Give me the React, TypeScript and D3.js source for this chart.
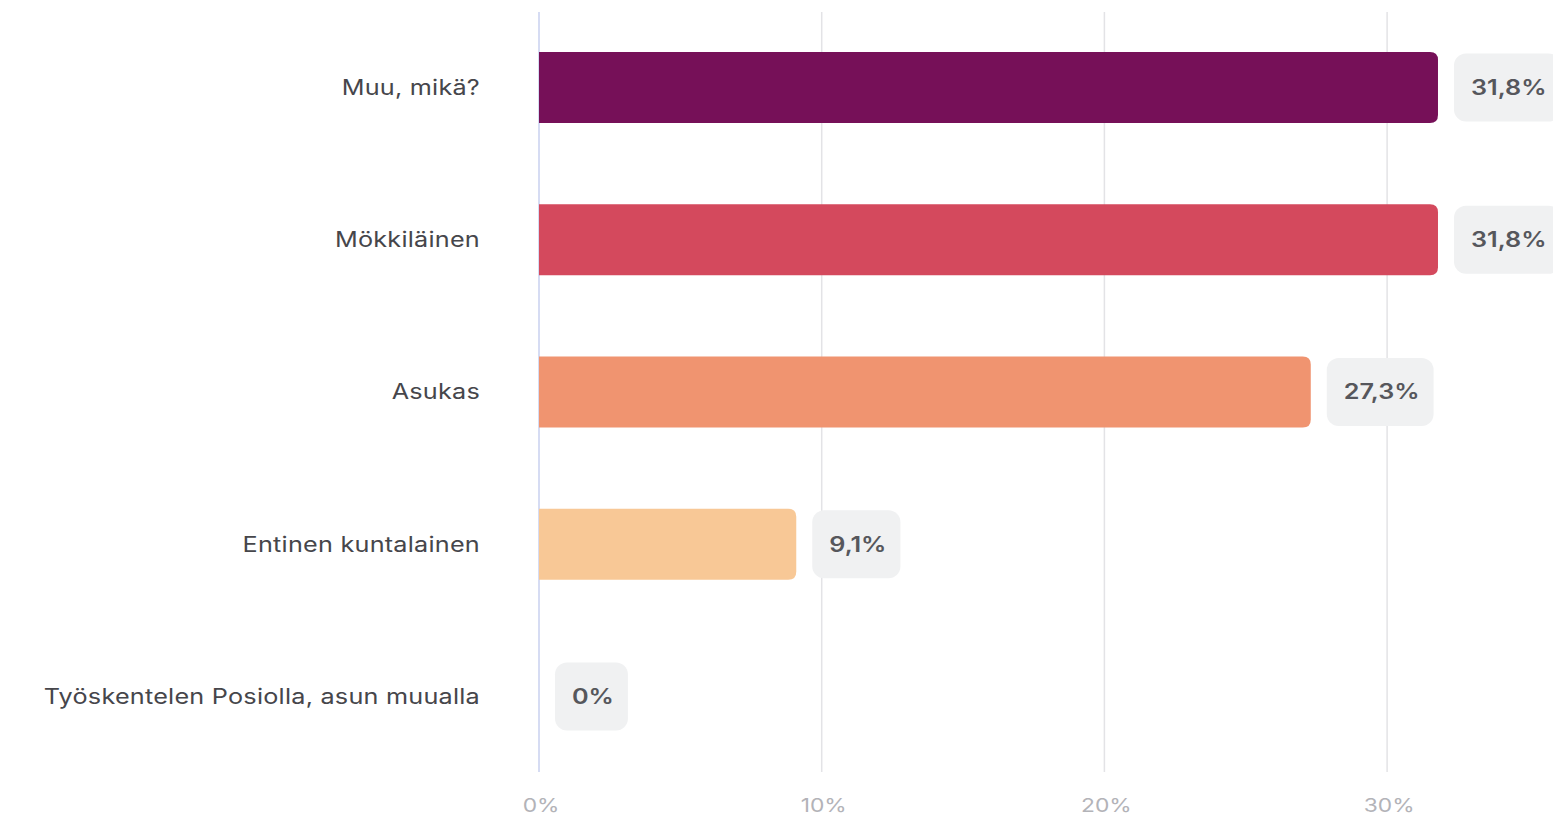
import React, { useEffect, useRef } from 'react';
import * as d3 from 'd3';

const categories = [
  'Muu, mikä?',
  'Mökkiläinen',
  'Asukas',
  'Entinen kuntalainen',
  'Työskentelen Posiolla, asun muualla',
];
const shares = [0.318, 0.318, 0.273, 0.091, 0];
const barColors = ['#761058', '#d4495d', '#f09470', '#f8c896', '#f8c896'];
const tickValues = [0, 0.1, 0.2, 0.3];

const W = 1553;
const H = 821;
// the source screenshot is stretched sideways, so text is too
const SX = 1.2;

const fi = d3.formatLocale({
  decimal: ',',
  thousands: '\u00a0',
  grouping: [3],
  currency: ['', '\u00a0€'],
});

const fmtValue = (v: number) => (v === 0 ? '0%' : fi.format('.1%')(v));
const fmtTick = fi.format('.0%');

const App: React.FC = () => {
  const ref = useRef<SVGSVGElement>(null);

  useEffect(() => {
    drawChart();
  // eslint-disable-next-line react-hooks/exhaustive-deps
  }, []);

  const drawChart = () => {
    const svg = d3.select(ref.current);
    svg.selectAll('*').remove();

    const x = d3.scaleLinear().domain([0, 0.35]).range([539, 539 + 2827 * 0.35]);
    const y = d3
      .scaleBand<string>()
      .domain(categories)
      .range([12, 772])
      .paddingInner(0.534)
      .paddingOuter(0.263);

    const font = 'Inter, "Noto Sans", sans-serif';

    // gridlines
    svg
      .append('g')
      .selectAll('line')
      .data(tickValues)
      .enter()
      .append('line')
      .attr('x1', d => x(d))
      .attr('x2', d => x(d))
      .attr('y1', 12)
      .attr('y2', 772)
      .attr('stroke', d => (d === 0 ? '#c9d1ef' : '#e3e3e6'))
      .attr('stroke-width', 1.5);

    // tick labels
    svg
      .append('g')
      .selectAll('text')
      .data(tickValues)
      .enter()
      .append('text')
      .attr('transform', d => `translate(${x(d) + 2}, 805) scale(${SX}, 1)`)
      .attr('dy', '0.35em')
      .attr('text-anchor', 'middle')
      .style('font-family', font)
      .style('font-size', '19px')
      .style('fill', '#b3b3b8')
      .text(d => fmtTick(d));

    // bars, flat on the left, rounded on the right
    const r = 8;
    const barPath = (x0: number, x1: number, y0: number, h: number) => {
      const w = x1 - x0;
      if (w <= 0) return '';
      const rr = Math.min(r, w, h / 2);
      return `M${x0},${y0}H${x1 - rr}Q${x1},${y0} ${x1},${y0 + rr}V${y0 + h - rr}Q${x1},${y0 + h} ${x1 - rr},${y0 + h}H${x0}Z`;
    };

    svg
      .append('g')
      .selectAll('path')
      .data(categories)
      .enter()
      .append('path')
      .attr('d', (c, i) => barPath(x(0), x(shares[i]), y(c)!, y.bandwidth()))
      .attr('fill', (c, i) => barColors[i]);

    // category labels
    svg
      .append('g')
      .selectAll('text')
      .data(categories)
      .enter()
      .append('text')
      .attr('transform', c => `translate(480, ${y(c)! + y.bandwidth() / 2}) scale(${SX}, 1)`)
      .attr('dy', '0.35em')
      .attr('text-anchor', 'end')
      .style('font-family', font)
      .style('font-size', '21px')
      .style('letter-spacing', '0.2px')
      .style('fill', '#46464b')
      .text(c => c);

    // value badges
    const badges = svg
      .append('g')
      .selectAll('g')
      .data(categories)
      .enter()
      .append('g')
      .attr('transform', (c, i) => `translate(${x(shares[i]) + 16}, ${y(c)! + y.bandwidth() / 2})`);

    const badgeText = badges
      .append('text')
      .attr('transform', `translate(17, 0) scale(${SX}, 1)`)
      .attr('dy', '0.35em')
      .style('font-family', font)
      .style('font-size', '21px')
      .style('font-weight', 600)
      .style('fill', '#56575c')
      .text((c, i) => fmtValue(shares[i]));

    badges
      .insert('rect', 'text')
      .attr('x', 0)
      .attr('y', -34)
      .attr('height', 68)
      .attr('rx', 12)
      .attr('fill', '#f0f1f2')
      .attr('width', (c, i) => {
        const node = badgeText.nodes()[i] as SVGTextElement;
        return node.getComputedTextLength() * SX + 31;
      });
  };

  return (
    <svg
      ref={ref}
      width={W}
      height={H}
      style={{ position: 'absolute', left: 0, top: 0, background: '#fff' }}
    />
  );
};

export default App;
